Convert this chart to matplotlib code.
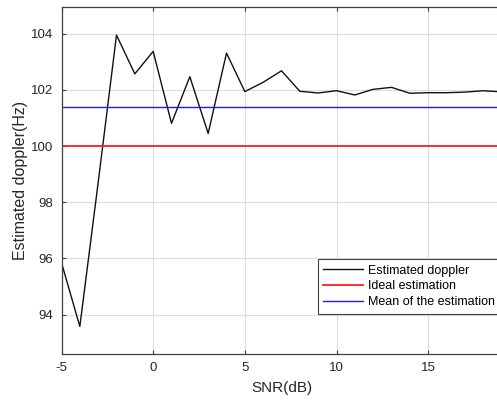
import matplotlib
matplotlib.use('Agg')
import matplotlib.pyplot as plt

# SNR sweep and the estimated doppler
snr_db = [-5, -4, -3, -2, -1, 0, 1, 2, 3, 4, 5, 6, 7, 8, 9, 10, 11, 12, 13, 14, 15, 16, 17, 18, 19]
est_doppler = [95.85, 93.58, 98.7, 103.95, 102.57, 103.37, 100.81, 102.47, 100.45, 103.31,
               101.94, 102.27, 102.68, 101.95, 101.89, 101.97, 101.82, 102.02, 102.09, 101.88,
               101.9, 101.9, 101.92, 101.97, 101.93]
ideal_doppler = 100.0
mean_doppler = 101.38

y_ticks = [94, 96, 98, 100, 102, 104]
x_ticks = [-5, 0, 5, 10, 15]

plt.rcParams['font.family'] = ['Liberation Sans', 'DejaVu Sans']
plt.rcParams['axes.unicode_minus'] = False

fig = plt.figure(figsize=(4.97, 4.05), dpi=100)
ax = fig.add_axes([61.5 / 497, 51 / 405, 440 / 497, 347 / 405])

ax.plot(snr_db, est_doppler, color='#111111', lw=1.0, label='Estimated doppler')
ax.axhline(ideal_doppler, color='#ff2020', lw=1.3, label='Ideal estimation')
ax.axhline(mean_doppler, color='#1a1aff', lw=1.0, label='Mean of the estimation')

ax.set_xlim(-5, 19)
ax.set_ylim(92.6, 104.95)
ax.set_xticks(x_ticks)
ax.set_yticks(y_ticks)
ax.grid(True, color='#dcdcdc', lw=0.8)
ax.set_axisbelow(True)

for side in ['top', 'bottom', 'left', 'right']:
    ax.spines[side].set_color('#404040')
    ax.spines[side].set_linewidth(0.9)
ax.tick_params(direction='in', length=3, width=0.8, colors='#404040',
               labelcolor='#262626', labelsize=9.5, top=True, right=True, pad=6)

ax.set_xlabel('SNR(dB)', fontsize=11, color='#262626', labelpad=5)
ax.set_ylabel('Estimated doppler(Hz)', fontsize=11.5, color='#262626', labelpad=2)

leg = ax.legend(loc='upper left', bbox_to_anchor=(317.5 / 497, 1 - 259 / 405),
                bbox_transform=fig.transFigure, fontsize=9, frameon=True,
                fancybox=False, framealpha=1, edgecolor='#404040',
                handlelength=3.2, handletextpad=0.4, borderpad=0.45,
                labelspacing=0.3, borderaxespad=0)
leg.get_frame().set_linewidth(0.8)

fig.savefig('out.png', dpi=100)
